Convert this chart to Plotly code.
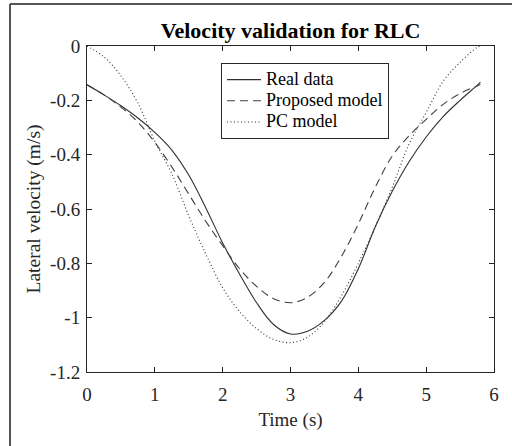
import plotly.graph_objects as go

# ---- data ----
time_s = [0, 0.25, 0.5, 0.75, 1.0, 1.25, 1.5, 1.75, 2.0, 2.25, 2.5, 2.75, 3.0,
          3.25, 3.5, 3.75, 4.0, 4.25, 4.5, 4.75, 5.0, 5.25, 5.5, 5.75, 5.8]
real_data = [-0.143, -0.18, -0.22, -0.265, -0.318, -0.383, -0.475, -0.595, -0.725,
             -0.84, -0.945, -1.025, -1.06, -1.05, -1.01, -0.94, -0.82, -0.665,
             -0.535, -0.425, -0.335, -0.26, -0.2, -0.145, -0.133]
proposed_model = [-0.143, -0.18, -0.225, -0.28, -0.355, -0.445, -0.545, -0.645, -0.735,
                  -0.82, -0.885, -0.93, -0.945, -0.925, -0.87, -0.775, -0.655, -0.52,
                  -0.405, -0.33, -0.27, -0.215, -0.175, -0.147, -0.142]
pc_model = [0.0, -0.04, -0.11, -0.21, -0.35, -0.47, -0.625, -0.765, -0.89, -0.978,
            -1.04, -1.08, -1.092, -1.072, -1.015, -0.92, -0.80, -0.665, -0.52, -0.36,
            -0.245, -0.13, -0.06, -0.005, 0.0]

series_names = ["Real data", "Proposed model", "PC model"]
x_ticks = [0, 1, 2, 3, 4, 5, 6]
y_ticks = [0, -0.2, -0.4, -0.6, -0.8, -1, -1.2]
y_tick_text = ["0", "-0.2", "-0.4", "-0.6", "-0.8", "-1", "-1.2"]

FONT = "Liberation Serif"
AX = "#262626"


def legend_label(s):
    return "<span style='font-size:18px'>" + s + "</span>"


fig = go.Figure()
fig.add_trace(go.Scatter(x=time_s, y=real_data, name=legend_label(series_names[0]), mode="lines",
                         line=dict(color="#303030", width=1.1, shape="spline")))
fig.add_trace(go.Scatter(x=time_s, y=proposed_model, name=legend_label(series_names[1]), mode="lines",
                         line=dict(color="#404040", width=1.1, dash="8px,5px", shape="spline")))
fig.add_trace(go.Scatter(x=time_s, y=pc_model, name=legend_label(series_names[2]), mode="lines",
                         line=dict(color="#303030", width=1.1, dash="1px,2.5px", shape="spline")))

W, H = 512, 446
L, R, T, B = 87, 18, 46, 74


def px_x(p):
    return (p - L) / (W - L - R)


def px_y(p):
    return (H - B - p) / (H - T - B)


fig.update_layout(
    width=W, height=H,
    margin=dict(l=L, r=R, t=T, b=B),
    paper_bgcolor="white", plot_bgcolor="white",
    font=dict(family=FONT, size=19, color="#262626"),
    title=dict(text="<b>Velocity validation for RLC</b>", x=0.5, xanchor="center", xref="paper",
               y=1 - 30 / H, yanchor="middle", yref="container",
               font=dict(family=FONT, size=22, color="#000000")),
    showlegend=True,
    legend=dict(x=px_x(221), y=px_y(63), xanchor="left", yanchor="top",
                bgcolor="white", bordercolor=AX, borderwidth=1,
                font=dict(family=FONT, size=14, color="#000000"),
                itemwidth=34, tracegroupgap=0),
    xaxis=dict(range=[0, 6], tickvals=x_ticks, ticks="inside", ticklen=5,
               showline=True, linecolor=AX, linewidth=1, mirror="ticks",
               tickcolor=AX, showgrid=False, zeroline=False,
               title=dict(text="Time (s)", standoff=8, font=dict(size=19)),
               tickfont=dict(size=19), ticklabelstandoff=5),
    yaxis=dict(range=[-1.2, 0], tickvals=y_ticks, ticktext=y_tick_text, ticks="inside",
               ticklen=5, showline=True, linecolor=AX, linewidth=1, mirror="ticks",
               tickcolor=AX, showgrid=False, zeroline=False,
               title=dict(text="Lateral velocity (m/s)", standoff=4, font=dict(size=19.5)),
               tickfont=dict(size=19), ticklabelstandoff=2),
    shapes=[
        dict(type="line", xref="paper", yref="paper", x0=px_x(10), x1=px_x(10),
             y0=px_y(4), y1=px_y(H + 2), line=dict(color="#555555", width=2)),
        dict(type="line", xref="paper", yref="paper", x0=px_x(10), x1=px_x(W + 2),
             y0=px_y(4), y1=px_y(4), line=dict(color="#555555", width=2)),
    ],
)

fig.write_html("out.html")
